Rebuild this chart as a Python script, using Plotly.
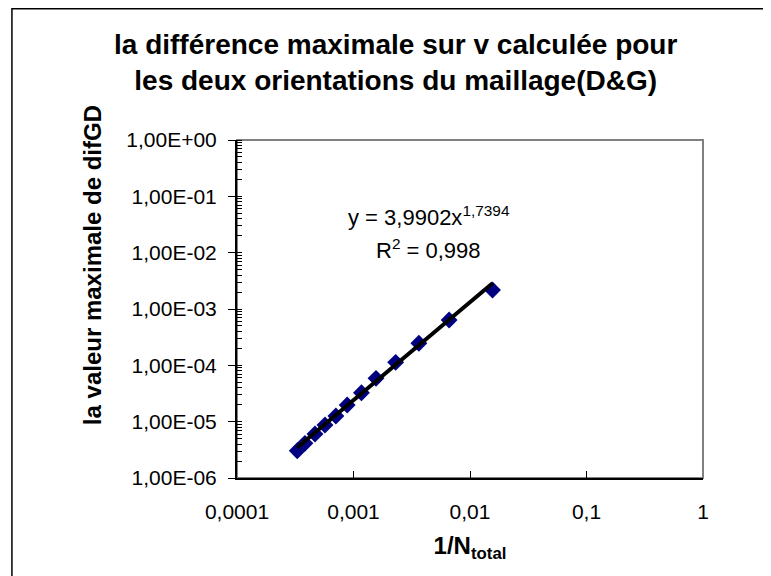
import numpy as np
import plotly.graph_objects as go

# data
inv_n = [3.29e-4, 3.83e-4, 4.67e-4, 5.69e-4, 7.06e-4, 8.83e-4,
         1.17e-3, 1.56e-3, 2.30e-3, 3.64e-3, 6.62e-3, 1.56e-2]
dif_gd = [3.05e-6, 4.12e-6, 6.04e-6, 8.7e-6, 1.26e-5, 1.98e-5,
          3.27e-5, 5.88e-5, 1.13e-4, 2.46e-4, 6.38e-4, 2.17e-3]

# power trendline shown on the chart
fit_coef = 3.9902
fit_exp = 1.7394
fit_r2 = "0,998"

x_tickvals = [1e-4, 1e-3, 1e-2, 1e-1, 1]
x_ticktext = ["0,0001", "0,001", "0,01", "0,1", "1"]
y_tickvals = [1e-6, 1e-5, 1e-4, 1e-3, 1e-2, 1e-1, 1]
y_ticktext = ["1,00E-06", "1,00E-05", "1,00E-04", "1,00E-03", "1,00E-02", "1,00E-01", "1,00E+00"]

FONT = "Liberation Sans, Arial, sans-serif"

trend_x = np.array([min(inv_n), max(inv_n)])
trend_y = fit_coef * trend_x ** fit_exp

fig = go.Figure()
fig.add_trace(go.Scatter(
    x=inv_n, y=dif_gd, mode="markers",
    marker=dict(symbol="diamond", size=13, color="#000080"),
    showlegend=False
))
fig.add_trace(go.Scatter(
    x=trend_x, y=trend_y, mode="lines",
    line=dict(color="black", width=4),
    showlegend=False
))

# chart title (two lines, centred over the chart area)
fig.add_annotation(x=0.341, y=1.228, xref="paper", yref="paper",
                   xanchor="center", yanchor="middle", showarrow=False,
                   text="<b>la différence maximale sur v calculée pour<br>les deux orientations du maillage(D&G)</b>",
                   font=dict(family=FONT, size=28, color="black"))

# y axis title sits higher than the plot centre in the original
fig.add_annotation(x=-0.311, y=0.63, xref="paper", yref="paper",
                   xanchor="center", yanchor="middle", showarrow=False, textangle=-90,
                   text="<b>la valeur maximale de difGD</b>",
                   font=dict(family=FONT, size=24, color="black"))

# equation text
fig.add_annotation(x=0.412, y=0.822, xref="paper", yref="paper",
                   text="y = 3,9902x<sup>1,7394</sup>", showarrow=False,
                   font=dict(family=FONT, size=22, color="black"))
fig.add_annotation(x=0.412, y=0.725, xref="paper", yref="paper",
                   text="R<sup>2</sup> = " + fit_r2, showarrow=False,
                   font=dict(family=FONT, size=22, color="black"))

# plot frame (gray top/right) and outer chart border
fig.add_shape(type="rect", xref="paper", yref="paper", x0=0, x1=1, y0=0, y1=1,
              line=dict(color="#808080", width=2), layer="below")
fig.add_shape(type="rect", xref="paper", yref="paper", x0=-0.483, x1=1.145, y0=-0.31, y1=1.388,
              line=dict(color="black", width=1.5))

# page has an 8px body margin, so the figure is sized to fit the 771x576 window
fig.update_layout(
    width=763, height=568,
    margin=dict(l=229, r=68, t=132, b=98),
    plot_bgcolor="white", paper_bgcolor="white",
    font=dict(family=FONT, color="black"),
    xaxis=dict(
        type="log", range=[-4, 0],
        tickvals=x_tickvals, ticktext=x_ticktext,
        ticks="inside", ticklen=7, tickcolor="black",
        showline=True, linecolor="black", linewidth=2,
        showgrid=False, zeroline=False,
        tickfont=dict(size=21), ticklabelstandoff=14,
        title=dict(text="<b>1/N<sub>total</sub></b>", font=dict(size=24), standoff=15)
    ),
    yaxis=dict(
        type="log", range=[-6, 0],
        tickvals=y_tickvals, ticktext=y_ticktext,
        ticks="outside", ticklen=7, tickcolor="black",
        minor=dict(ticks="inside", ticklen=5, dtick="D1", tickcolor="black", showgrid=False),
        showline=True, linecolor="black", linewidth=2,
        showgrid=False, zeroline=False,
        tickfont=dict(size=21), ticklabelstandoff=7,
    ),
)

fig.write_html("out.html")
